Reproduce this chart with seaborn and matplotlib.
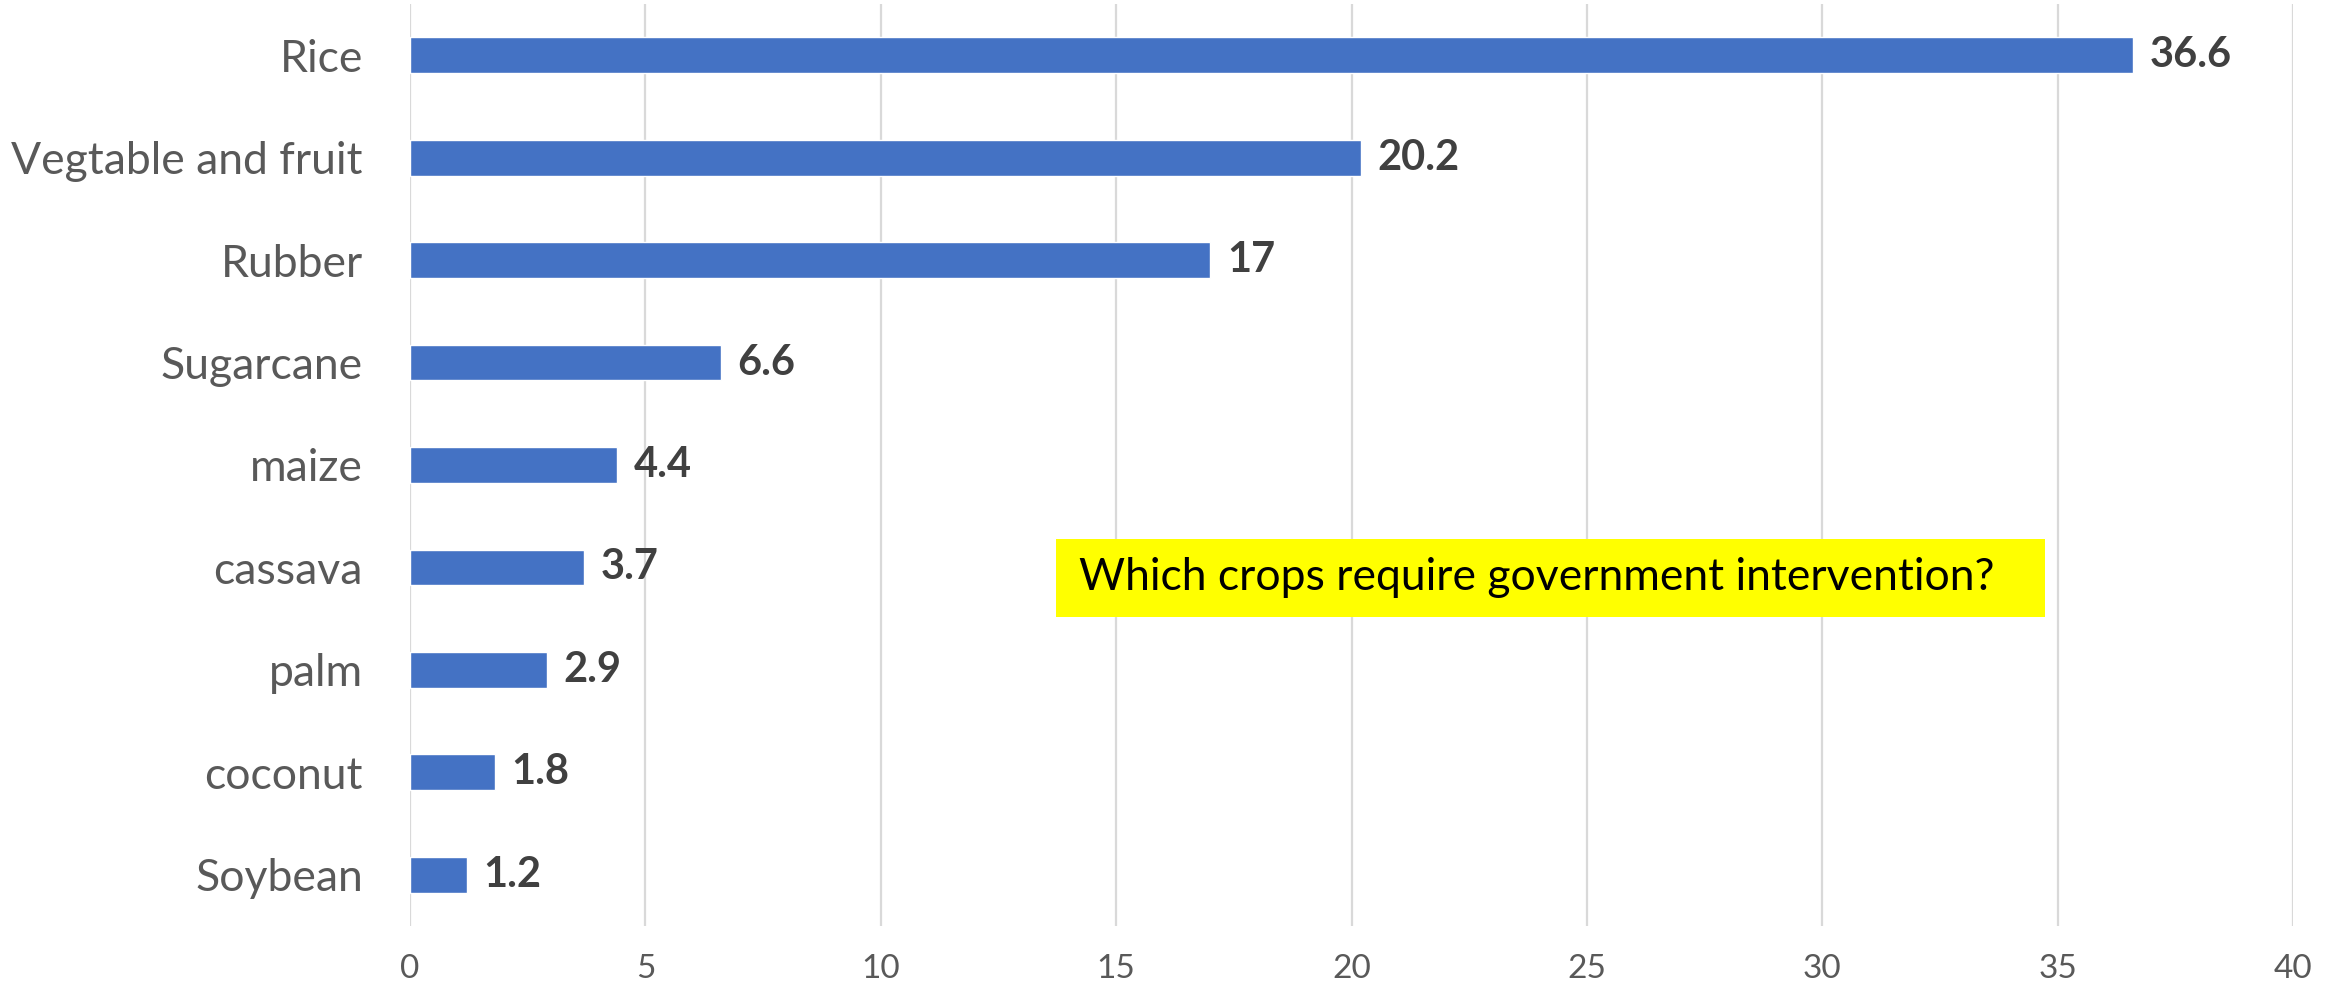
import matplotlib
matplotlib.use("Agg")
import matplotlib.pyplot as plt
import seaborn as sns
import pandas as pd
from matplotlib.patches import Rectangle

# data
crops = ["Rice", "Vegtable and fruit", "Rubber", "Sugarcane", "maize",
         "cassava", "palm", "coconut", "Soybean"]
shares = [36.6, 20.2, 17, 6.6, 4.4, 3.7, 2.9, 1.8, 1.2]
x_ticks = [0, 5, 10, 15, 20, 25, 30, 35, 40]
note = "Which crops require government intervention?"

sns.set_theme(style="white")
plt.rcParams["font.family"] = ["Lato", "DejaVu Sans"]

df = pd.DataFrame({"crop": crops, "share": shares})

fig = plt.figure(figsize=(23.43, 9.82), dpi=100)
ax = fig.add_axes([0.175, 0.057, 0.8037, 0.939])

sns.barplot(data=df, y="crop", x="share", orient="h", color="#4472C4",
            saturation=1, width=0.35, ax=ax)

# value labels at bar ends
ax.bar_label(ax.containers[0], labels=[f"{v:g}" for v in shares], padding=12,
             fontsize=30, fontweight="bold", color="#404040")

ax.set_xlim(0, 40)
ax.set_xticks(x_ticks)
ax.set_ylim(len(crops) - 0.5, -0.5)
ax.xaxis.grid(True, color="#D9D9D9", linewidth=1.6)
ax.set_axisbelow(True)
for s in ax.spines.values():
    s.set_visible(False)
ax.set_xlabel("")
ax.set_ylabel("")
ax.tick_params(axis="x", length=0, pad=20, labelsize=24, labelcolor="#595959")
ax.tick_params(axis="y", length=0, pad=34, labelsize=32, labelcolor="#595959")

# yellow callout box
ax.add_patch(Rectangle((0.343, 0.335), 0.525, 0.085, transform=ax.transAxes,
                       facecolor="#FFFF00", edgecolor="none", zorder=5))
ax.text(0.355, 0.3775, note, transform=ax.transAxes, ha="left", va="center",
        fontsize=32, color="black", zorder=6)

fig.savefig("out.png", dpi=100)
